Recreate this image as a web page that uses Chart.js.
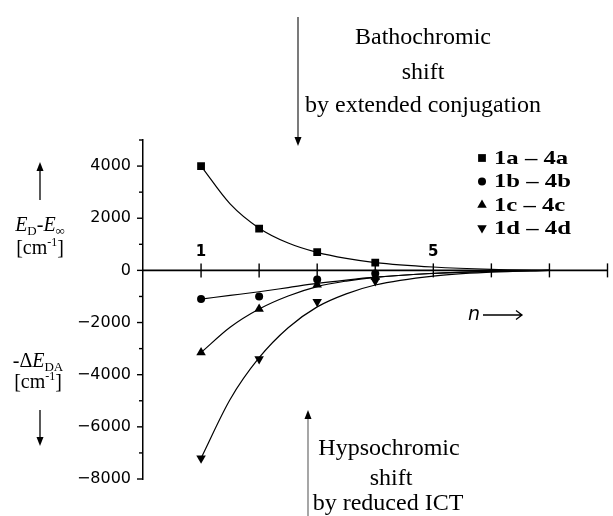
<!DOCTYPE html>
<html>
<head>
<meta charset="utf-8">
<script src="https://cdn.jsdelivr.net/npm/chart.js@4"></script>
<style>
  html, body { margin: 0; padding: 0; background: #fff; }
</style>
</head>
<body>
<canvas id="myChart" width="613" height="516"></canvas>
<script>
// measured points, n = 1..4
var nValues = [1, 2, 3, 4];
var seriesA = [4000, 1600, 700, 300];
var seriesB = [-1100, -1000, -350, -120];
var seriesC = [-3150, -1480, -550, -250];
var seriesD = [-7200, -3400, -1200, -410];

// fitted curves
var fitN = [1, 1.5, 2, 2.5, 3, 3.5, 4, 5, 6, 7];
var fitA = [4000, 2550, 1620, 1050, 690, 460, 300, 130, 40, 0];
var fitB = [-1100, -960, -820, -660, -500, -370, -260, -120, -40, 0];
var fitC = [-3150, -2180, -1480, -980, -620, -410, -270, -110, -35, 0];
var fitD = [-7200, -4950, -3350, -2200, -1400, -900, -560, -220, -70, 0];

var legendLabels = ['1a \u2013 4a', '1b \u2013 4b', '1c \u2013 4c', '1d \u2013 4d'];
var xTickN = [1, 2, 3, 4, 5, 6, 7, 8];
var xLabelN = [1, 5];

function pts(xs, ys) {
    return xs.map(function (x, i) { return { x: x, y: ys[i] }; });
}

var markerStyles = [
    { pointStyle: 'rect', radius: 5.5, rotation: 0 },
    { pointStyle: 'circle', radius: 4, rotation: 0 },
    { pointStyle: 'triangle', radius: 5.5, rotation: 0 },
    { pointStyle: 'triangle', radius: 5.5, rotation: 180 }
];

function fitSet(ys) {
    return {
        data: pts(fitN, ys), showLine: true, borderColor: '#000', borderWidth: 1.2,
        pointRadius: 0, cubicInterpolationMode: 'monotone', fill: false
    };
}
function markSet(ys, m) {
    return {
        data: pts(nValues, ys), showLine: false, backgroundColor: '#000', borderColor: '#000',
        pointStyle: m.pointStyle, pointRadius: m.radius, pointRotation: m.rotation, borderWidth: 0
    };
}

function drawMarker(ctx, m, x, y) {
    ctx.save();
    ctx.fillStyle = '#000';
    ctx.beginPath();
    var r = m.radius;
    if (m.pointStyle === 'rect') {
        var s = r * Math.SQRT1_2;
        ctx.rect(x - s, y - s, 2 * s, 2 * s);
    } else if (m.pointStyle === 'circle') {
        ctx.arc(x, y, r, 0, Math.PI * 2);
    } else {
        var dir = m.rotation ? -1 : 1;
        ctx.moveTo(x, y - dir * r);
        ctx.lineTo(x + r * 0.866, y + dir * r * 0.5);
        ctx.lineTo(x - r * 0.866, y + dir * r * 0.5);
        ctx.closePath();
    }
    ctx.fill();
    ctx.restore();
}

function drawRich(ctx, parts, cx, y) {
    var w = 0;
    parts.forEach(function (p) { ctx.font = p.font; p.w = ctx.measureText(p.t).width; w += p.w; });
    var x = cx - w / 2;
    ctx.textAlign = 'left';
    ctx.textBaseline = 'alphabetic';
    parts.forEach(function (p) {
        ctx.font = p.font;
        ctx.fillText(p.t, x, y + (p.dy || 0));
        x += p.w;
    });
}

function arrow(ctx, x, y1, y2, color) {
    // vertical line from y1 to the tip at y2
    var dir = y2 > y1 ? 1 : -1;
    ctx.save();
    ctx.strokeStyle = color;
    ctx.lineWidth = 1.3;
    ctx.beginPath();
    ctx.moveTo(x, y1);
    ctx.lineTo(x, y2 - dir * 6);
    ctx.stroke();
    ctx.fillStyle = '#000';
    ctx.beginPath();
    ctx.moveTo(x, y2);
    ctx.lineTo(x - 3.5, y2 - dir * 9);
    ctx.lineTo(x + 3.5, y2 - dir * 9);
    ctx.closePath();
    ctx.fill();
    ctx.restore();
}

var SERIF = '"Liberation Serif", "Times New Roman", serif';

var axesPlugin = {
    id: 'axesPlugin',
    beforeDatasetsDraw: function (chart) {
        var ctx = chart.ctx, xs = chart.scales.x, ys = chart.scales.y, area = chart.chartArea;
        var y0 = ys.getPixelForValue(0);
        ctx.save();
        ctx.strokeStyle = '#000';
        ctx.lineWidth = 1.8;
        ctx.beginPath();
        ctx.moveTo(area.left, y0);
        ctx.lineTo(area.right, y0);
        ctx.stroke();
        ctx.lineWidth = 1.4;
        xTickN.forEach(function (n) {
            var px = xs.getPixelForValue(n);
            ctx.beginPath();
            ctx.moveTo(px, y0 - 7);
            ctx.lineTo(px, y0 + 7);
            ctx.stroke();
        });
        ys.ticks.forEach(function (t) {
            var py = ys.getPixelForValue(t.value);
            var len = t.value % 2000 === 0 ? 6 : 4;
            ctx.beginPath();
            ctx.moveTo(area.left - len, py);
            ctx.lineTo(area.left, py);
            ctx.stroke();
        });
        ctx.fillStyle = '#000';
        ctx.font = 'bold 15px "DejaVu Sans"';
        ctx.textAlign = 'center';
        ctx.textBaseline = 'alphabetic';
        xLabelN.forEach(function (n) {
            ctx.fillText(String(n), xs.getPixelForValue(n), y0 - 14);
        });
        ctx.restore();
    },
    afterDraw: function (chart) {
        var ctx = chart.ctx;
        ctx.save();
        ctx.fillStyle = '#000';

        // legend
        var rowY = [158, 181.5, 205, 228];
        legendLabels.forEach(function (lab, i) {
            drawMarker(ctx, markerStyles[i], 482, rowY[i]);
            ctx.save();
            ctx.translate(494, rowY[i] + 1);
            ctx.scale(1.3, 1);
            ctx.font = 'bold 19px ' + SERIF;
            ctx.textAlign = 'left';
            ctx.textBaseline = 'middle';
            ctx.fillText(lab, 0, 0);
            ctx.restore();
        });

        // n arrow label
        ctx.font = 'italic 19px "DejaVu Sans"';
        ctx.textAlign = 'left';
        ctx.textBaseline = 'middle';
        ctx.fillText('n', 468, 315);
        ctx.strokeStyle = '#000';
        ctx.lineWidth = 1.3;
        ctx.beginPath();
        ctx.moveTo(483, 315);
        ctx.lineTo(522, 315);
        ctx.moveTo(516, 310.5);
        ctx.lineTo(522, 315);
        ctx.lineTo(516, 319.5);
        ctx.stroke();

        // left axis captions
        var big = '20px ' + SERIF, ital = 'italic 20px ' + SERIF, sub = '13px ' + SERIF, sup = '12px ' + SERIF;
        drawRich(ctx, [
            { t: 'E', font: ital }, { t: 'D', font: sub, dy: 4 }, { t: '-', font: big },
            { t: 'E', font: ital }, { t: '\u221e', font: sub, dy: 4 }
        ], 40, 231);
        drawRich(ctx, [{ t: '[cm', font: big }, { t: '-1', font: sup, dy: -8 }, { t: ']', font: big }], 40, 254);
        drawRich(ctx, [
            { t: '-\u0394', font: big }, { t: 'E', font: ital }, { t: 'DA', font: sub, dy: 4 }
        ], 38, 367);
        drawRich(ctx, [{ t: '[cm', font: big }, { t: '-1', font: sup, dy: -8 }, { t: ']', font: big }], 38, 388);
        arrow(ctx, 40, 200, 162, '#000');
        arrow(ctx, 40, 410, 446, '#000');

        // annotations
        ctx.font = '24px ' + SERIF;
        ctx.textAlign = 'center';
        ctx.textBaseline = 'alphabetic';
        ctx.fillText('Bathochromic', 423, 44);
        ctx.fillText('shift', 423, 79);
        ctx.fillText('by extended conjugation', 423, 112);
        ctx.fillText('Hypsochromic', 389, 455);
        ctx.fillText('shift', 391, 485);
        ctx.fillText('by reduced ICT', 388, 510);
        arrow(ctx, 298, 17, 146, '#333');
        arrow(ctx, 308, 516, 410, '#777');
        ctx.restore();
    }
};

var datasets = [
    fitSet(fitA), fitSet(fitB), fitSet(fitC), fitSet(fitD),
    markSet(seriesA, markerStyles[0]), markSet(seriesB, markerStyles[1]),
    markSet(seriesC, markerStyles[2]), markSet(seriesD, markerStyles[3])
];

var ctx = document.getElementById('myChart').getContext('2d');
new Chart(ctx, {
    type: 'scatter',
    data: { datasets: datasets },
    options: {
        responsive: false,
        animation: false,
        devicePixelRatio: 1,
        layout: { padding: { left: 0, right: 1, top: 140, bottom: 37 } },
        plugins: { legend: { display: false }, tooltip: { enabled: false } },
        scales: {
            x: { type: 'linear', min: 0, max: 8, display: false },
            y: {
                type: 'linear', min: -8000, max: 5000,
                afterFit: function (scale) { scale.width = 143; },
                border: { display: true, color: '#000', width: 1.5 },
                grid: { drawOnChartArea: false, drawTicks: false },
                ticks: {
                    stepSize: 1000, autoSkip: false, padding: 12, color: '#000',
                    font: { family: '"DejaVu Sans"', size: 16 },
                    callback: function (v) {
                        if (v % 2000 !== 0) return '';
                        return v < 0 ? '\u2212' + Math.abs(v) : String(v);
                    }
                }
            }
        }
    },
    plugins: [axesPlugin]
});
</script>
</body>
</html>
